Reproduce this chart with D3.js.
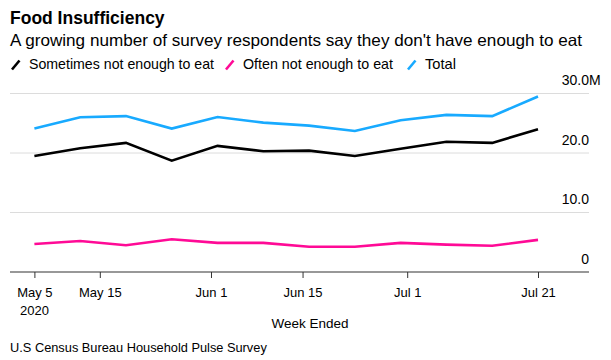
<!DOCTYPE html>
<html><head><meta charset="utf-8">
<script src="https://cdn.jsdelivr.net/npm/d3@7"></script>
<style>
html,body{margin:0;padding:0;background:#fff;}
svg text{font-family:"Liberation Sans",Arial,sans-serif;fill:#000;}
</style></head>
<body><svg id="c" width="611" height="360"></svg>
<script>
const weeks = ["2020-05-05","2020-05-12","2020-05-19","2020-05-26","2020-06-02","2020-06-09","2020-06-16","2020-06-23","2020-06-30","2020-07-07","2020-07-14","2020-07-21"];
const sometimes = [19.5,20.8,21.7,18.7,21.2,20.3,20.4,19.5,20.7,21.9,21.7,24.0];
const often = [4.7,5.2,4.5,5.5,4.9,4.9,4.25,4.25,4.9,4.6,4.4,5.4];
const total = [24.1,26.0,26.2,24.1,26.05,25.1,24.6,23.7,25.5,26.4,26.2,29.5];
const seriesNames = ["Sometimes not enough to eat","Often not enough to eat","Total"];
const seriesColors = ["#000000","#ff0a96","#18aaff"];
const yTicks = [0,10,20,30];
const yTickLabels = ["0","10.0","20.0","30.0"];
const xTickDates = ["2020-05-05","2020-05-15","2020-06-01","2020-06-15","2020-07-01","2020-07-21"];
const xTickLabels = ["May 5","May 15","Jun 1","Jun 15","Jul 1","Jul 21"];

const parse = d3.utcParse("%Y-%m-%d");
const svg = d3.select("#c");
const x = d3.scaleUtc().domain([parse("2020-05-05"), parse("2020-07-21")]).range([34.4, 538]);
const y = d3.scaleLinear().domain([0,30]).range([272, 93.5]);
const left = 10, right = 589;

svg.append("text").attr("x",10).attr("y",24).style("font-size","17.5px").style("font-weight","bold").text("Food Insufficiency");
svg.append("text").attr("x",10).attr("y",45.5).style("font-size","16.5px")
  .attr("textLength",572).attr("lengthAdjust","spacingAndGlyphs")
  .text("A growing number of survey respondents say they don't have enough to eat");

// legend
const legX = [12,226,408];
const legW = [185,150,31];
seriesNames.forEach((n,i)=>{
  const g = svg.append("g").attr("transform",`translate(${legX[i]},0)`);
  g.append("line").attr("x1",0).attr("y1",69.5).attr("x2",7.5).attr("y2",60.5).attr("stroke",seriesColors[i]).attr("stroke-width",2.6);
  g.append("text").attr("x",17).attr("y",69).style("font-size","14.3px")
    .attr("textLength",legW[i]).attr("lengthAdjust","spacingAndGlyphs").text(n);
});

// grid
svg.append("g").selectAll("line").data(yTicks.filter(d=>d>0)).join("line")
  .attr("x1",left).attr("x2",right).attr("y1",d=>y(d)).attr("y2",d=>y(d)).attr("stroke","#dcdcdc").attr("stroke-width",1);
svg.append("g").selectAll("text").data(yTicks).join("text")
  .attr("x",right).attr("y",d=>y(d)-8.5).attr("text-anchor","end").style("font-size","14px")
  .text((d,i)=>yTickLabels[i]);
svg.append("text").attr("x",right).attr("y",y(30)-8.5).style("font-size","14px").text("M");

// x axis
const xAxis = d3.axisBottom(x).tickValues(xTickDates.map(parse)).tickSize(6).tickFormat((d,i)=>xTickLabels[i]);
const gx = svg.append("g").attr("transform",`translate(0,${y(0)})`).call(xAxis);
gx.select(".domain").remove();
gx.selectAll(".tick line").attr("stroke","#333");
gx.selectAll(".tick text").attr("y",25).attr("dy",0).style("font-size","13px").style("font-family","Liberation Sans, Arial, sans-serif").attr("fill","#000");
svg.append("line").attr("x1",left).attr("x2",right).attr("y1",y(0)).attr("y2",y(0)).attr("stroke","#333").attr("stroke-width",1.2);
svg.append("text").attr("x",x(parse("2020-05-05"))).attr("y",315).attr("text-anchor","middle").style("font-size","13px").text("2020");
svg.append("text").attr("x",310).attr("y",328).attr("text-anchor","middle").style("font-size","13.5px").text("Week Ended");
svg.append("text").attr("x",10).attr("y",352).style("font-size","12.8px").text("U.S Census Bureau Household Pulse Survey");

// lines
const dates = weeks.map(parse);
const line = d3.line().x((d,i)=>x(dates[i])).y(d=>y(d));
[sometimes, often, total].forEach((s,i)=>{
  svg.append("path").datum(s).attr("d",line).attr("fill","none").attr("stroke",seriesColors[i]).attr("stroke-width",2.6).attr("stroke-linejoin","miter");
});
</script></body></html>
